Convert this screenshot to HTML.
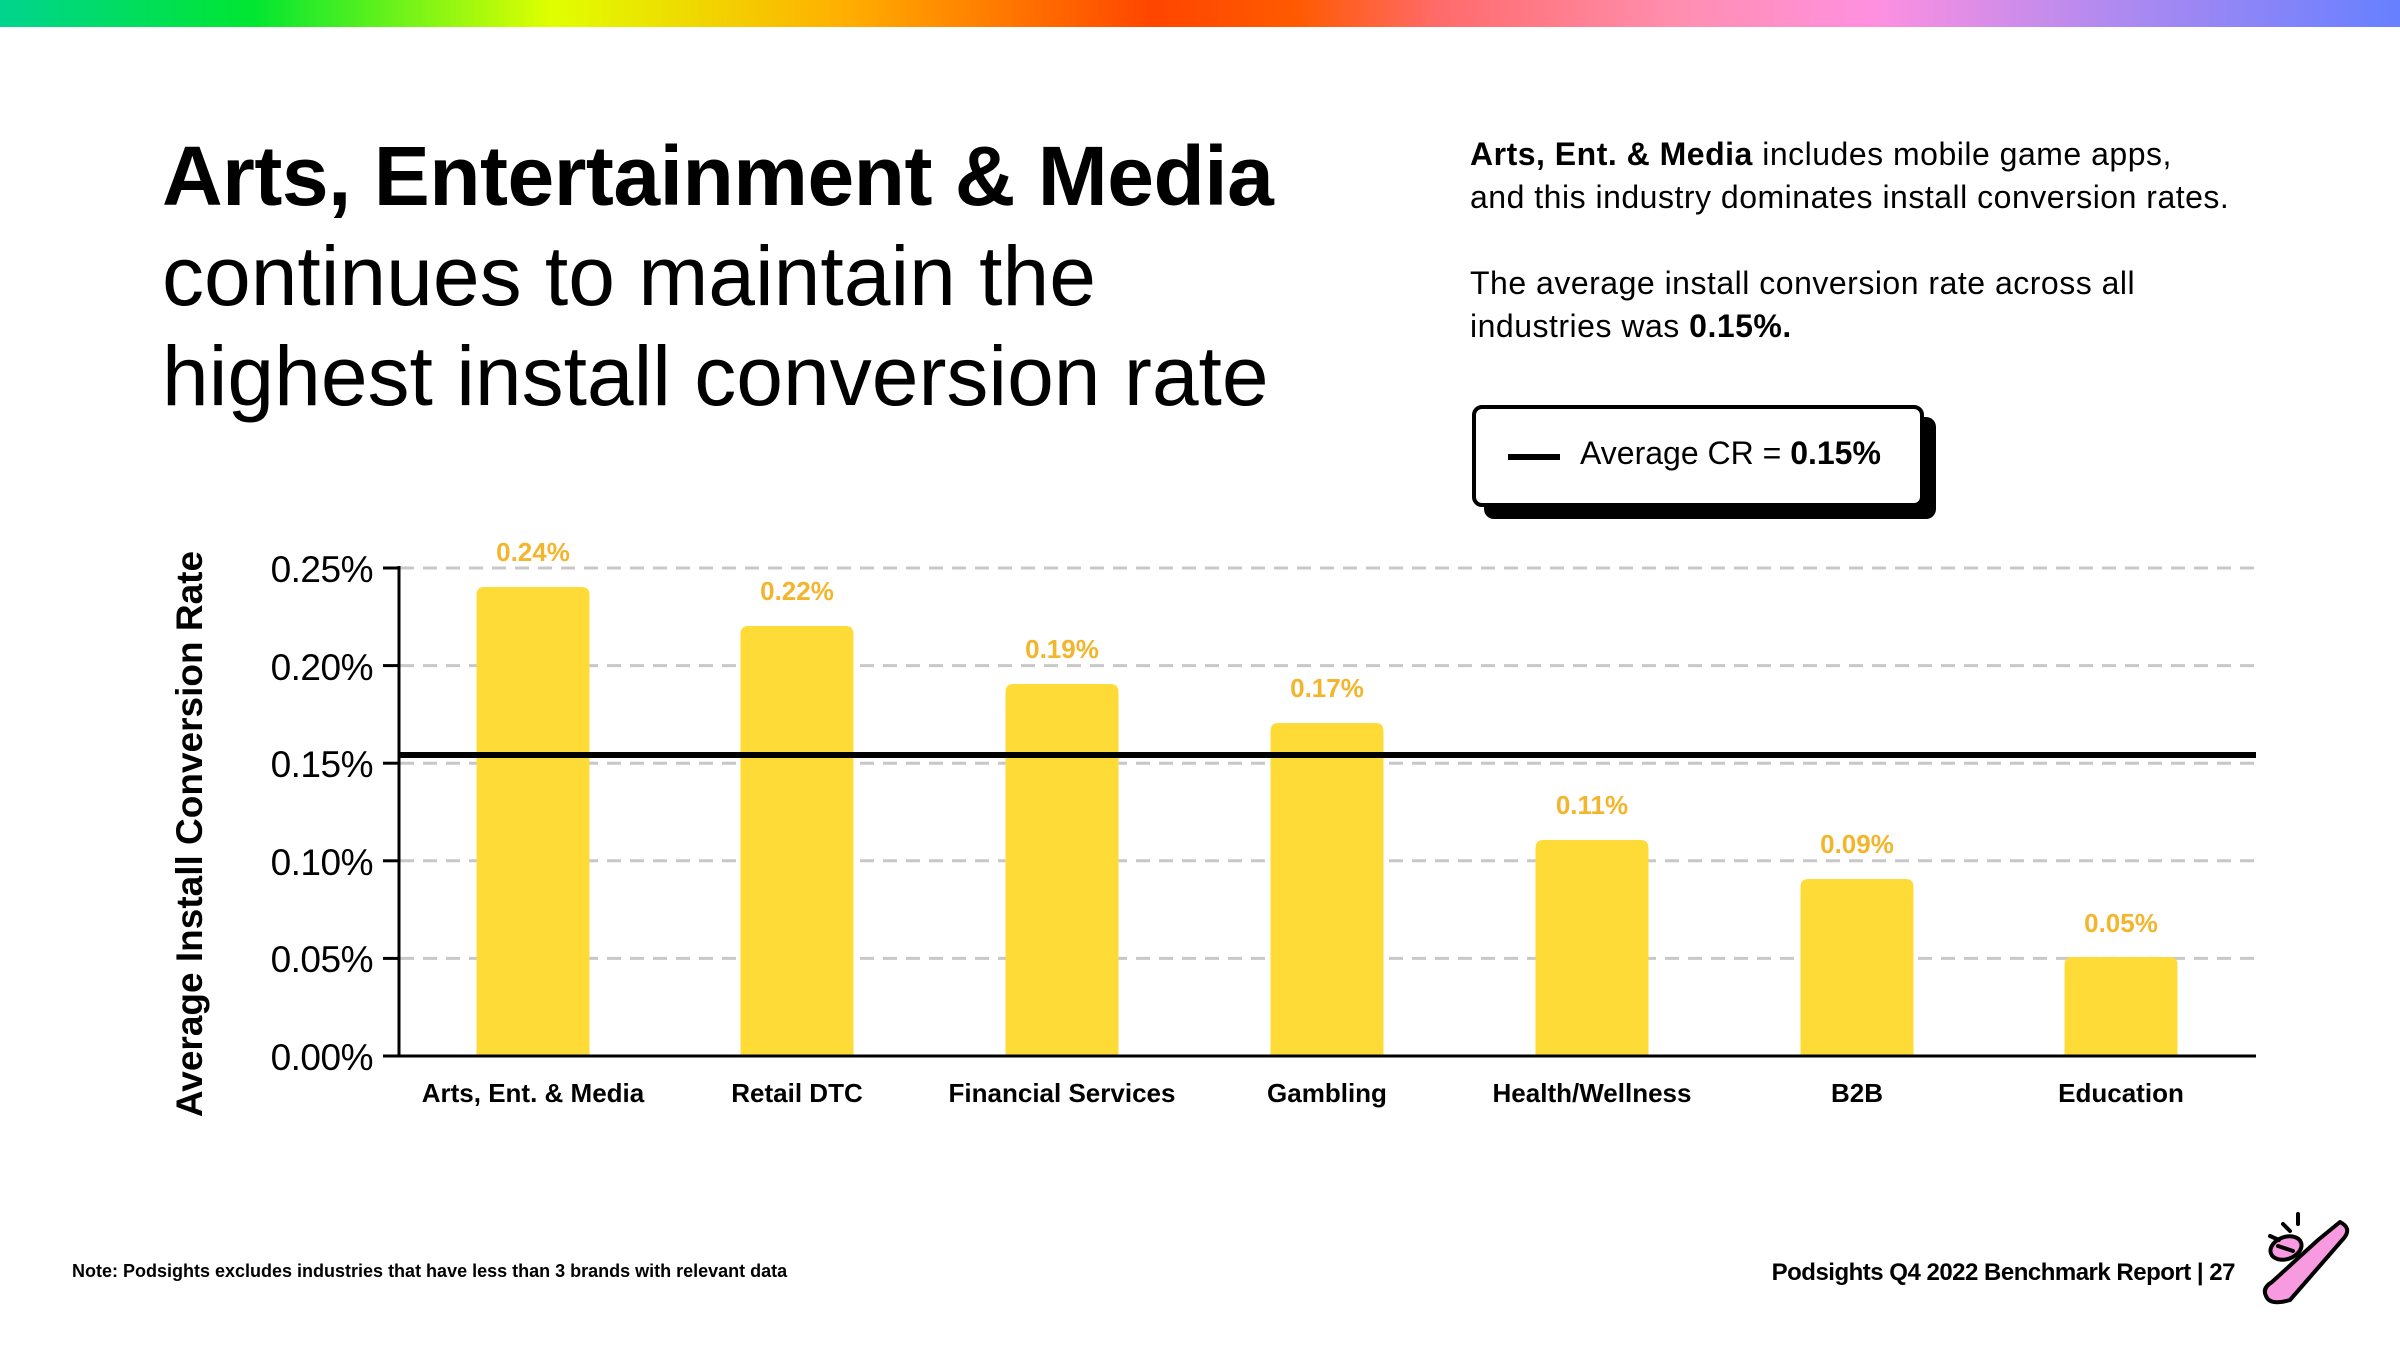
<!DOCTYPE html>
<html><head><meta charset="utf-8"><style>
html,body{margin:0;padding:0;background:#fff;}
body{width:2400px;height:1350px;position:relative;overflow:hidden;font-family:"Liberation Sans",sans-serif;color:#000;}
.bar{position:absolute;left:0;top:0;width:2400px;height:27px;background:linear-gradient(90deg,#00d48f 0%,#00e632 10.5%,#e0ff00 23%,#ffb000 35%,#ff4500 48%,#ff5a00 54%,#ff6b6b 60%,#ff8fb0 70%,#ff90e0 78%,#b08af0 88%,#6680ff 100%);}
.title{position:absolute;left:162px;top:126px;font-size:84px;line-height:100px;letter-spacing:0px;}
.title b{letter-spacing:-0.5px;}
.side{position:absolute;left:1470px;top:133px;font-size:32px;line-height:43px;letter-spacing:0.5px;}
.legend{position:absolute;left:1472px;top:405px;width:444px;height:94px;border:4px solid #000;border-radius:10px;background:#fff;box-shadow:12px 12px 0 #000;}
.legend .ln{position:absolute;left:32px;top:45px;width:52px;height:6px;background:#000;}
.legend .t{position:absolute;left:104px;top:26px;font-size:32px;letter-spacing:0px;}
.note{position:absolute;left:72px;top:1261px;font-size:18px;font-weight:bold;letter-spacing:0px;}
.foot{position:absolute;right:165px;top:1259px;font-size:24px;font-weight:bold;letter-spacing:-0.5px;}
</style></head><body>
<div class="bar"></div>
<div class="title"><b>Arts, Entertainment &amp; Media</b><br>continues to maintain the<br>highest install conversion rate</div>
<div class="side"><b>Arts, Ent. &amp; Media</b> includes mobile game apps,<br>and this industry dominates install conversion rates.<br><div style="height:43px"></div>The average install conversion rate across all<br>industries was <b>0.15%.</b></div>
<div class="legend"><div class="ln"></div><div class="t">Average CR = <b>0.15%</b></div></div>
<svg width="2400" height="1350" style="position:absolute;left:0;top:0" font-family="Liberation Sans, sans-serif">
<g stroke="#c8c8c8" stroke-width="3" stroke-dasharray="14,9">
<line x1="400" y1="568" x2="2255" y2="568"/><line x1="400" y1="665.6" x2="2255" y2="665.6"/><line x1="400" y1="763.2" x2="2255" y2="763.2"/><line x1="400" y1="860.8" x2="2255" y2="860.8"/><line x1="400" y1="958.4" x2="2255" y2="958.4"/>
</g>
<g fill="#fedb37">
<path d="M476.5 1056V595 q0-8 8-8h97q8 0 8 8V1056z"/>
<path d="M740.5 1056V634 q0-8 8-8h97q8 0 8 8V1056z"/>
<path d="M1005.5 1056V692 q0-8 8-8h97q8 0 8 8V1056z"/>
<path d="M1270.5 1056V731 q0-8 8-8h97q8 0 8 8V1056z"/>
<path d="M1535.5 1056V848 q0-8 8-8h97q8 0 8 8V1056z"/>
<path d="M1800.5 1056V887 q0-8 8-8h97q8 0 8 8V1056z"/>
<path d="M2064.5 1056V965 q0-8 8-8h97q8 0 8 8V1056z"/>
</g>
<g stroke="#000" stroke-width="3">
<line x1="399" y1="566" x2="399" y2="1056"/><line x1="383" y1="1056" x2="2256" y2="1056"/>
<line x1="383" y1="568" x2="399" y2="568"/><line x1="383" y1="665.6" x2="399" y2="665.6"/><line x1="383" y1="763.2" x2="399" y2="763.2"/><line x1="383" y1="860.8" x2="399" y2="860.8"/><line x1="383" y1="958.4" x2="399" y2="958.4"/>
</g>
<line x1="399" y1="755" x2="2256" y2="755" stroke="#000" stroke-width="6"/>
<g font-size="37" text-anchor="end" letter-spacing="-0.5">
<text x="373" y="582">0.25%</text><text x="373" y="680">0.20%</text><text x="373" y="777">0.15%</text><text x="373" y="875">0.10%</text><text x="373" y="972">0.05%</text><text x="373" y="1070">0.00%</text>
</g>
<g font-size="26" font-weight="bold" fill="#f3b52c" text-anchor="middle" letter-spacing="0">
<text x="533" y="561">0.24%</text><text x="797" y="600">0.22%</text><text x="1062" y="658">0.19%</text><text x="1327" y="697">0.17%</text><text x="1592" y="814">0.11%</text><text x="1857" y="853">0.09%</text><text x="2121" y="932">0.05%</text>
</g>
<g font-size="26" font-weight="bold" text-anchor="middle" letter-spacing="0">
<text x="533" y="1102">Arts, Ent. &amp; Media</text><text x="797" y="1102">Retail DTC</text><text x="1062" y="1102">Financial Services</text><text x="1327" y="1102">Gambling</text><text x="1592" y="1102">Health/Wellness</text><text x="1857" y="1102">B2B</text><text x="2121" y="1102">Education</text>
</g>
<text transform="translate(202,834) rotate(-90)" font-size="37" font-weight="bold" text-anchor="middle">Average Install Conversion Rate</text>
<g stroke="#000" stroke-width="4" stroke-linecap="round" fill="#f79ae0" stroke-linejoin="round">
<path d="M2272 1282 L2318 1240 L2340 1222 Q2352 1228 2344 1238 L2290 1300 Q2270 1306 2266 1296 Q2262 1288 2272 1282z"/>
<ellipse cx="2286" cy="1248" rx="16" ry="11" transform="rotate(-20 2286 1248)"/>
<line x1="2278" y1="1246" x2="2293" y2="1251"/>
<line x1="2283" y1="1224" x2="2290" y2="1231" fill="none"/><line x1="2298" y1="1214" x2="2298" y2="1224"/><line x1="2270" y1="1236" x2="2279" y2="1240"/>
</g>
</svg>
<div class="note">Note: Podsights excludes industries that have less than 3 brands with relevant data</div>
<div class="foot">Podsights Q4 2022 Benchmark Report | 27</div>
</body></html>
